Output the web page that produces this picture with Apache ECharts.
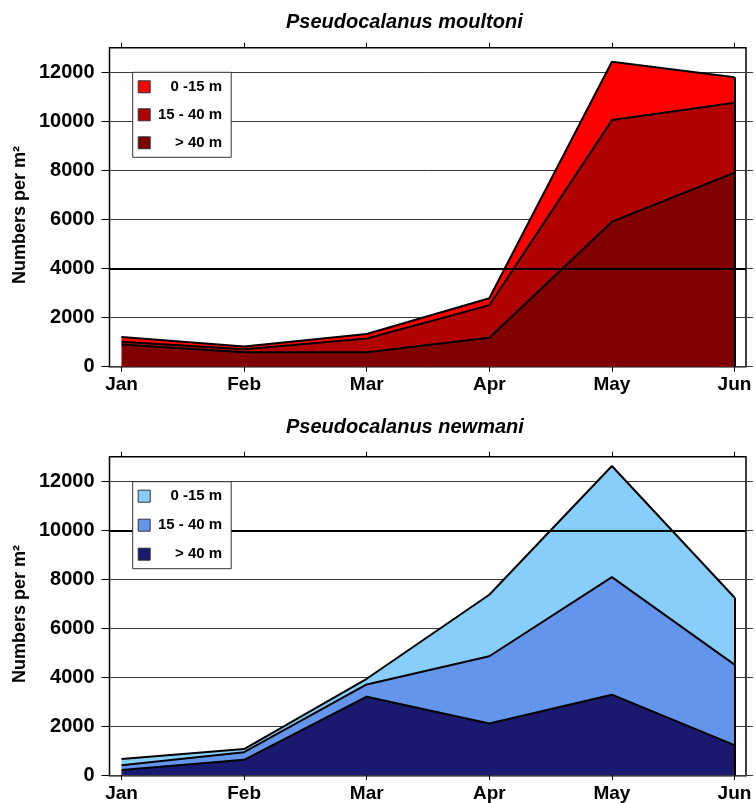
<!DOCTYPE html>
<html>
<head>
<meta charset="utf-8">
<script src="https://cdn.jsdelivr.net/npm/echarts@6/dist/echarts.min.js"></script>
<style>
html,body{margin:0;padding:0;background:#fff;}
#chart{width:756px;height:803px;}
</style>
</head>
<body>
<div id="chart"></div>
<script>
const months = ['Jan', 'Feb', 'Mar', 'Apr', 'May', 'Jun'];
const yTickValues = [0, 2000, 4000, 6000, 8000, 10000, 12000];
const layerNames = ['0 -15 m', '15 - 40 m', '> 40 m'];

// Pseudocalanus moultoni (numbers per m2, by depth layer)
const moultoniDeep    = [900, 590, 590, 1180, 5910, 7910];
const moultoniMid     = [120, 120, 560, 1330, 4140, 2850];
const moultoniShallow = [190, 110, 180, 280, 2380, 1040];

// Pseudocalanus newmani
const newmaniDeep    = [200, 620, 3200, 2100, 3280, 1220];
const newmaniMid     = [200, 310, 500, 2750, 4800, 3290];
const newmaniShallow = [250, 130, 230, 2510, 4540, 2740];

const redColors  = ['#FF0000', '#B00000', '#800000'];
const blueColors = ['#87CEFA', '#6495ED', '#191970'];

const FONT = 'Liberation Sans, Arial, sans-serif';

function total(a, b, c, i) { return a[i] + b[i] + c[i]; }

function boxGrid(top) {
  return { left: 109.5, right: 10, top: top, height: 319, show: true,
           borderColor: '#000', borderWidth: 1.5, backgroundColor: '#fff', containLabel: false };
}
function dataGrid(top) {
  return { left: 121.5, right: 21.5, top: top, height: 319, show: false, containLabel: false };
}

const grids = [boxGrid(47.7), dataGrid(47.7), boxGrid(456.7), dataGrid(456.7)];

function hiddenX(gridIndex) {
  return { type: 'value', gridIndex, min: 0, max: 1, show: false };
}
function monthX(gridIndex) {
  return {
    type: 'category', gridIndex, data: months, boundaryGap: false, position: 'bottom',
    axisLine: { show: false },
    axisTick: { show: true, inside: false, length: 5, alignWithLabel: true, lineStyle: { color: '#000', width: 1 } },
    splitLine: { show: false },
    axisLabel: { show: true, interval: 0, margin: 9, color: '#000', fontFamily: FONT, fontWeight: 'bold', fontSize: 19 }
  };
}
function topTickX(gridIndex) {
  return {
    type: 'category', gridIndex, data: months, boundaryGap: false, position: 'top',
    axisLine: { show: false },
    axisTick: { show: true, inside: false, length: 5, lineStyle: { color: '#000', width: 1 } },
    splitLine: { show: false },
    axisLabel: { show: false }
  };
}
function leftY(gridIndex) {
  return {
    type: 'value', gridIndex, min: 0, max: 13000, interval: 2000, position: 'left',
    axisLine: { show: false },
    axisTick: { show: true, inside: false, length: 8, customValues: yTickValues, lineStyle: { color: '#000', width: 1 } },
    splitLine: { show: true, lineStyle: { color: '#3a3a3a', width: 1 } },
    axisLabel: { show: true, margin: 15, customValues: yTickValues, color: '#000', fontFamily: FONT,
                 fontWeight: 'bold', fontSize: 20, formatter: v => String(v) }
  };
}
function rightY(gridIndex) {
  return {
    type: 'value', gridIndex, min: 0, max: 13000, interval: 2000, position: 'right',
    axisLine: { show: false },
    axisTick: { show: true, inside: false, length: 7, customValues: yTickValues, lineStyle: { color: '#3a3a3a', width: 1 } },
    splitLine: { show: false },
    axisLabel: { show: false }
  };
}
function hiddenY(gridIndex) {
  return { type: 'value', gridIndex, min: 0, max: 13000, show: false, splitLine: { show: false } };
}

const xAxes = [hiddenX(0), monthX(1), topTickX(1), hiddenX(2), monthX(3), topTickX(3)];
const yAxes = [leftY(0), rightY(0), hiddenY(1), leftY(2), rightY(2), hiddenY(3)];

function areaSeries(name, values, color, xIdx, yIdx, stack, extra) {
  return Object.assign({
    name, type: 'line', stack, xAxisIndex: xIdx, yAxisIndex: yIdx,
    data: values, showSymbol: false, symbol: 'none', smooth: false,
    itemStyle: { color },
    lineStyle: { color: '#000', width: 2 },
    areaStyle: { color, opacity: 1 },
    emphasis: { disabled: true }, silent: true, z: 3
  }, extra || {});
}

function edgeLine(a, b, c) {
  const last = months.length - 1;
  return {
    symbol: 'none', silent: true, label: { show: false },
    lineStyle: { color: '#000', width: 2, type: 'solid' },
    data: [[{ coord: [months[last], 0] }, { coord: [months[last], total(a, b, c, last)] }]]
  };
}

function gridMark(xIdx, yIdx, value) {
  return {
    type: 'line', xAxisIndex: xIdx, yAxisIndex: yIdx, data: [], silent: true, z: 1,
    markLine: { symbol: 'none', silent: true, label: { show: false },
                lineStyle: { color: '#000', width: 2, type: 'solid' },
                data: [{ yAxis: value }] }
  };
}

const series = [
  gridMark(0, 0, 4000),
  areaSeries(layerNames[2], moultoniDeep, redColors[2], 1, 2, 'moultoni'),
  areaSeries(layerNames[1], moultoniMid, redColors[1], 1, 2, 'moultoni'),
  areaSeries(layerNames[0], moultoniShallow, redColors[0], 1, 2, 'moultoni',
             { markLine: edgeLine(moultoniDeep, moultoniMid, moultoniShallow) }),
  gridMark(3, 3, 10000),
  areaSeries(layerNames[2], newmaniDeep, blueColors[2], 4, 5, 'newmani'),
  areaSeries(layerNames[1], newmaniMid, blueColors[1], 4, 5, 'newmani'),
  areaSeries(layerNames[0], newmaniShallow, blueColors[0], 4, 5, 'newmani',
             { markLine: edgeLine(newmaniDeep, newmaniMid, newmaniShallow) })
];

function legend(top, colors, gap) {
  return {
    orient: 'vertical', left: 132.7, top: top,
    padding: [7, 9, 7, 5],
    itemWidth: 12, itemHeight: 12, itemGap: gap,
    icon: 'rect',
    selectedMode: false,
    backgroundColor: '#fff', borderColor: '#333', borderWidth: 1, borderRadius: 0,
    itemStyle: { borderColor: '#333', borderWidth: 1 },
    textStyle: { color: '#000', fontFamily: FONT, fontWeight: 'bold', fontSize: 15, lineHeight: 14,
                 rich: { r: { width: 67, align: 'right', fontFamily: FONT, fontWeight: 'bold', fontSize: 15, color: '#000' } } },
    formatter: n => '{r|' + n + '}',
    data: layerNames.map((n, i) => ({ name: n, itemStyle: { color: colors[i], borderColor: '#333', borderWidth: 1 } })),
    z: 10
  };
}

const option = {
  animation: false,
  backgroundColor: '#fff',
  title: [
    { text: 'Pseudocalanus moultoni', left: 286, top: 12, padding: 0,
      textStyle: { fontFamily: FONT, fontWeight: 'bold', fontStyle: 'italic', fontSize: 20, color: '#000' } },
    { text: 'Pseudocalanus newmani', left: 286, top: 417, padding: 0,
      textStyle: { fontFamily: FONT, fontWeight: 'bold', fontStyle: 'italic', fontSize: 20, color: '#000' } }
  ],
  legend: [legend(72.3, redColors, 13), legend(481.7, blueColors, 14)],
  grid: grids,
  xAxis: xAxes,
  yAxis: yAxes,
  series: series,
  graphic: [
    { type: 'text', x: 20, y: 215, rotation: Math.PI / 2,
      style: { text: 'Numbers per m²', fontFamily: FONT, fontWeight: 'bold', fontSize: 18, fill: '#000',
               align: 'center', verticalAlign: 'middle' } },
    { type: 'text', x: 20, y: 614, rotation: Math.PI / 2,
      style: { text: 'Numbers per m²', fontFamily: FONT, fontWeight: 'bold', fontSize: 18, fill: '#000',
               align: 'center', verticalAlign: 'middle' } }
  ]
};

const chart = echarts.init(document.getElementById('chart'), null, { renderer: 'canvas' });
chart.setOption(option);
</script>
</body>
</html>
